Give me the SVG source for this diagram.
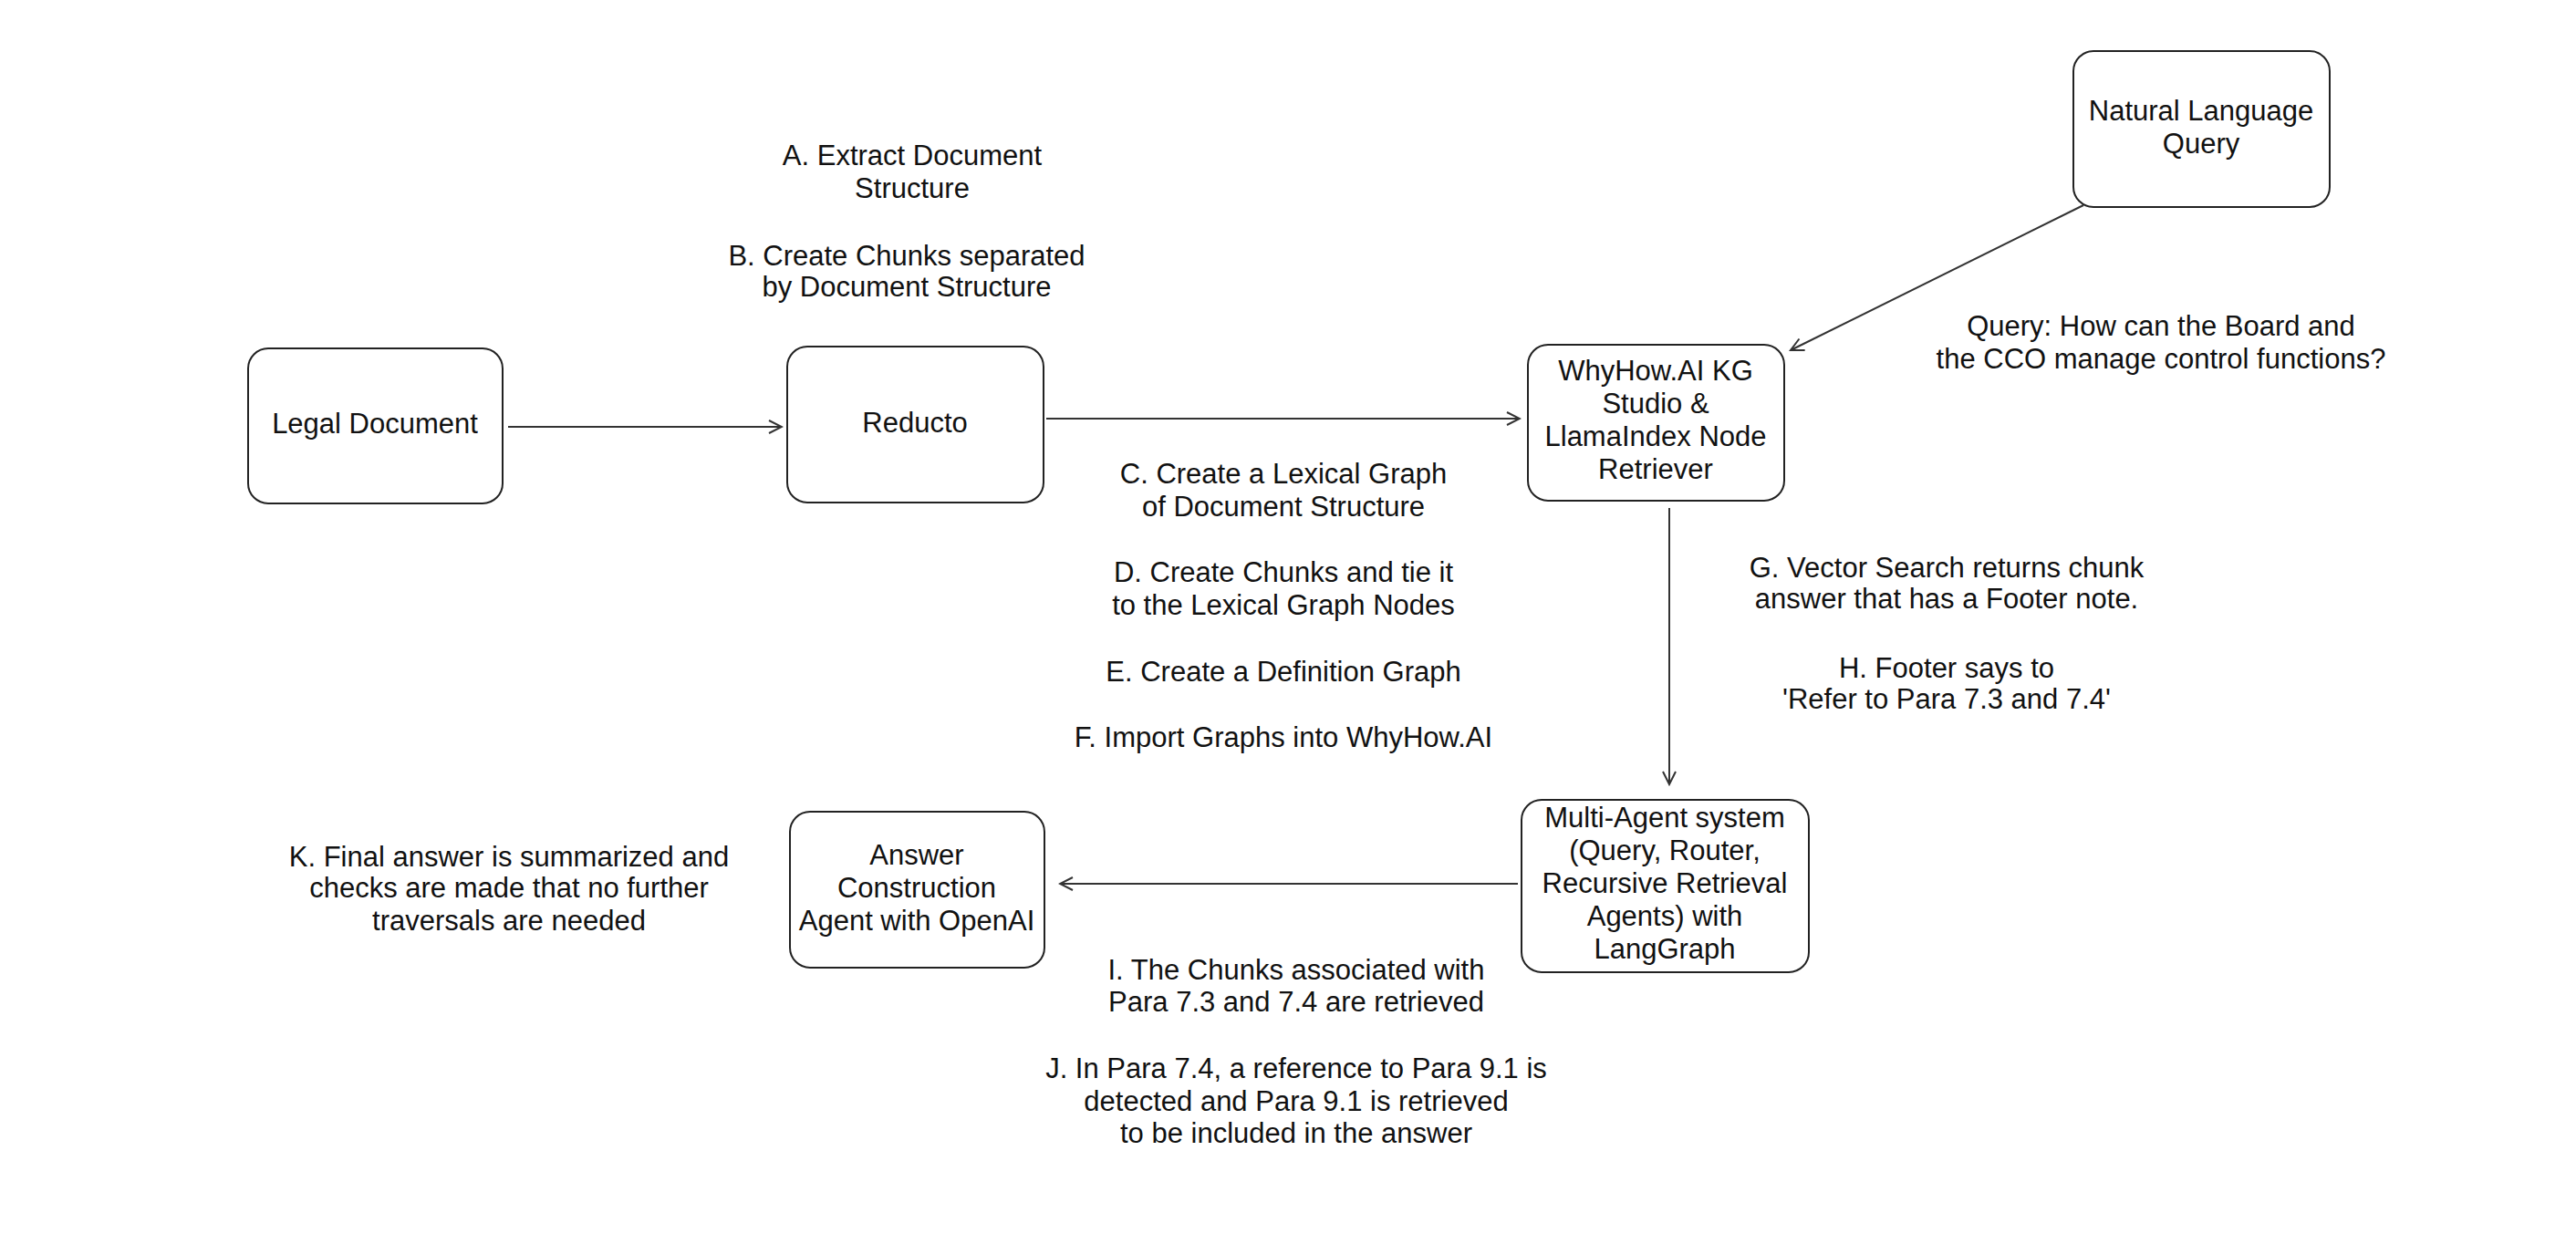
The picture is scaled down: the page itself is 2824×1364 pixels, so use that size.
<svg xmlns="http://www.w3.org/2000/svg" width="2824" height="1364" viewBox="0 0 2824 1364">
<style>
.box{fill:#fff;stroke:#222;stroke-width:2}
.t{font-family:"Liberation Sans",Arial,sans-serif;font-size:31px;fill:#111;text-anchor:middle}
.c{fill:none;stroke:#333;stroke-width:2}
</style>
<defs>
<marker id="arr" markerWidth="18" markerHeight="18" refX="16" refY="9" orient="auto" markerUnits="userSpaceOnUse">
<path d="M2,2 L16,9 L2,16" fill="none" stroke="#333" stroke-width="2"/>
</marker>
</defs>
<rect width="2824" height="1364" fill="#fff"/>
<g id="connectors">
<line class="c" x1="557" y1="468" x2="857" y2="468" marker-end="url(#arr)"/>
<line class="c" x1="1147" y1="459" x2="1666" y2="459" marker-end="url(#arr)"/>
<line class="c" x1="2284" y1="225" x2="1963" y2="384" marker-end="url(#arr)"/>
<line class="c" x1="1830" y1="557" x2="1830" y2="860" marker-end="url(#arr)"/>
<line class="c" x1="1664" y1="969" x2="1162" y2="969" marker-end="url(#arr)"/>
</g>
<g id="legal">
<rect class="box" x="272" y="382" width="279" height="170" rx="22"/>
<text class="t" x="411" y="475">Legal Document</text>
</g>
<g id="reducto">
<rect class="box" x="863" y="380" width="281" height="171" rx="22"/>
<text class="t" x="1003" y="474">Reducto</text>
</g>
<g id="whyhow">
<rect class="box" x="1675" y="378" width="281" height="171" rx="22"/>
<text class="t" x="1815" y="417">WhyHow.AI KG</text>
<text class="t" x="1815" y="453">Studio &amp;</text>
<text class="t" x="1815" y="489">LlamaIndex Node</text>
<text class="t" x="1815" y="525">Retriever</text>
</g>
<g id="nlq">
<rect class="box" x="2273" y="56" width="281" height="171" rx="22"/>
<text class="t" x="2413" y="132">Natural Language</text>
<text class="t" x="2413" y="168">Query</text>
</g>
<g id="multiagent">
<rect class="box" x="1668" y="877" width="315" height="189" rx="22"/>
<text class="t" x="1825" y="907">Multi-Agent system</text>
<text class="t" x="1825" y="943">(Query, Router,</text>
<text class="t" x="1825" y="979">Recursive Retrieval</text>
<text class="t" x="1825" y="1015">Agents) with</text>
<text class="t" x="1825" y="1051">LangGraph</text>
</g>
<g id="answer">
<rect class="box" x="866" y="890" width="279" height="171" rx="22"/>
<text class="t" x="1005" y="948">Answer</text>
<text class="t" x="1005" y="984">Construction</text>
<text class="t" x="1005" y="1020">Agent with OpenAI</text>
</g>
<g id="labels">
<text class="t" x="1000" y="181">A. Extract Document</text>
<text class="t" x="1000" y="217">Structure</text>
<text class="t" x="994" y="291">B. Create Chunks separated</text>
<text class="t" x="994" y="325">by Document Structure</text>
<text class="t" x="1407" y="530">C. Create a Lexical Graph</text>
<text class="t" x="1407" y="566">of Document Structure</text>
<text class="t" x="1407" y="638">D. Create Chunks and tie it</text>
<text class="t" x="1407" y="674">to the Lexical Graph Nodes</text>
<text class="t" x="1407" y="747">E. Create a Definition Graph</text>
<text class="t" x="1407" y="819">F. Import Graphs into WhyHow.AI</text>
<text class="t" x="2369" y="368">Query: How can the Board and</text>
<text class="t" x="2369" y="404">the CCO manage control functions?</text>
<text class="t" x="2134" y="633">G. Vector Search returns chunk</text>
<text class="t" x="2134" y="667">answer that has a Footer note.</text>
<text class="t" x="2134" y="743">H. Footer says to</text>
<text class="t" x="2134" y="777">'Refer to Para 7.3 and 7.4'</text>
<text class="t" x="558" y="950">K. Final answer is summarized and</text>
<text class="t" x="558" y="984">checks are made that no further</text>
<text class="t" x="558" y="1020">traversals are needed</text>
<text class="t" x="1421" y="1074">I. The Chunks associated with</text>
<text class="t" x="1421" y="1109">Para 7.3 and 7.4 are retrieved</text>
<text class="t" x="1421" y="1182">J. In Para 7.4, a reference to Para 9.1 is</text>
<text class="t" x="1421" y="1218">detected and Para 9.1 is retrieved</text>
<text class="t" x="1421" y="1253">to be included in the answer</text>
</g>
</svg>
